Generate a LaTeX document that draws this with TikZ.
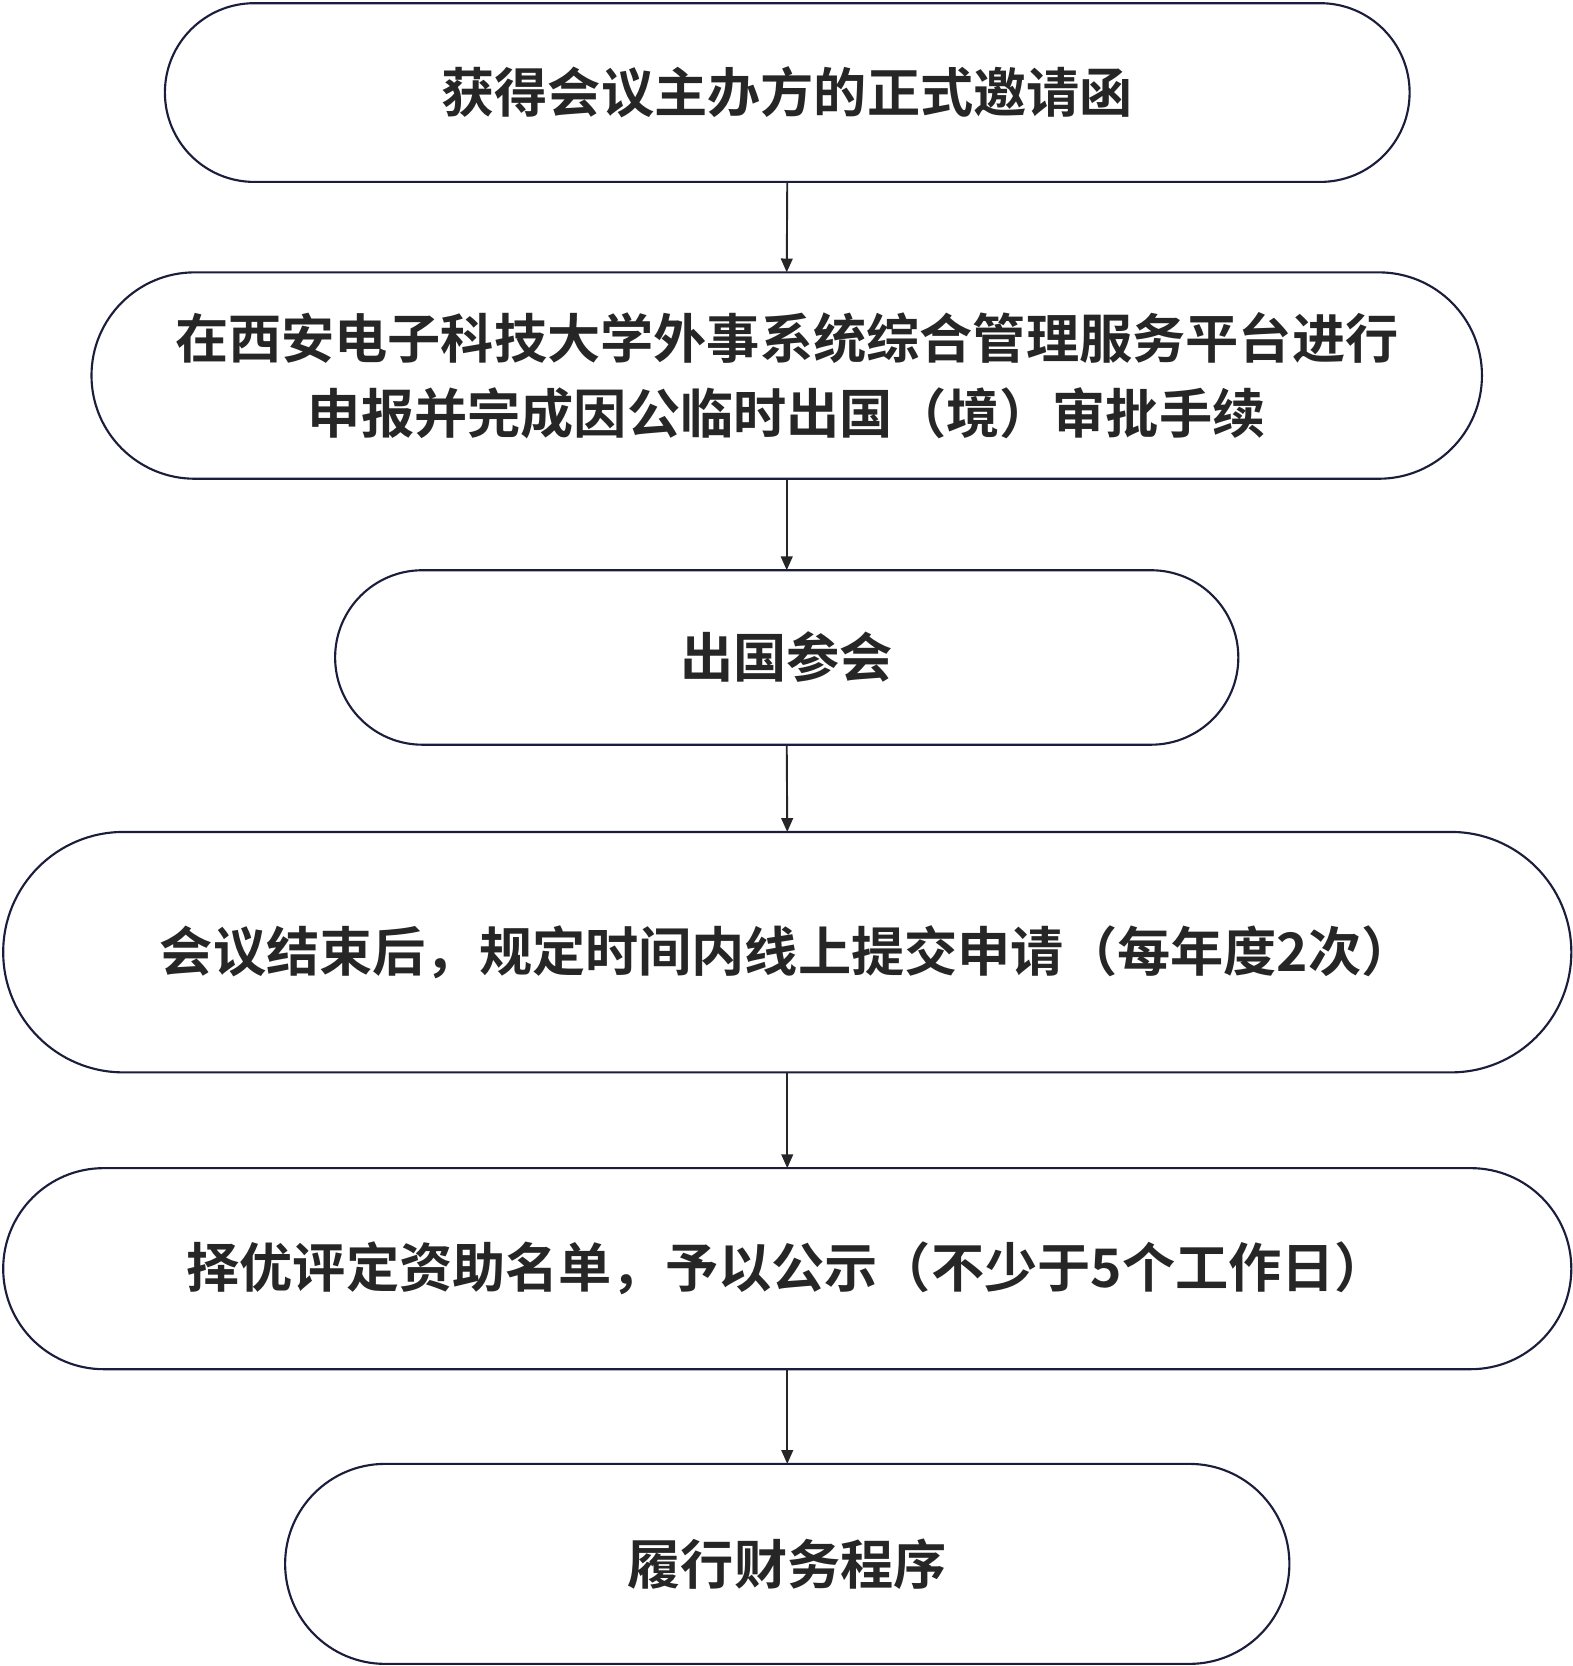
\documentclass[tikz,border=0pt]{standalone}
\usepackage{fontspec}
\newfontfamily\cjk{Noto Sans CJK SC Bold}
\usetikzlibrary{arrows.meta}
\definecolor{ln}{HTML}{1A1E3C}
\begin{document}
\begin{tikzpicture}[x=1pt,y=-1pt,
 bx/.style={draw=ln,line width=2pt,fill=white},
 tx/.style={font=\cjk\fontsize{50}{70}\selectfont,text=black!85,align=center},
 ar/.style={draw=black!85,line width=1.8pt,-{Triangle[length=13pt,width=11pt]}}]
\useasboundingbox (0,0) rectangle (1478,1566);
\newcommand\rbox[6]{%
 \pgfmathsetmacro\rr{(#4-#3)/2}%
 \draw[bx,rounded corners=\rr pt] (#1,#3) rectangle (#2,#4);
 \node[tx] (#5) at ({(#1+#2)/2},{(#3+#4)/2}) {#6};
 \coordinate (#5t) at ({(#1+#2)/2},#3);
 \coordinate (#5b) at ({(#1+#2)/2},#4);}
\rbox{155}{1325}{3}{171}{a}{获得会议主办方的正式邀请函}
\rbox{86}{1393}{256}{450}{b}{在西安电子科技大学外事系统综合管理服务平台进行\\申报并完成因公临时出国（境）审批手续}
\rbox{315}{1164}{536}{700}{c}{出国参会}
\rbox{3}{1477}{782}{1008}{d}{会议结束后，规定时间内线上提交申请（每年度2次）}
\rbox{3}{1477}{1098}{1287}{e}{择优评定资助名单，予以公示（不少于5个工作日）}
\rbox{268}{1212}{1376}{1564}{f}{履行财务程序}
\draw[ar] (ab) -- (bt);
\draw[ar] (bb) -- (ct);
\draw[ar] (cb) -- (dt);
\draw[ar] (db) -- (et);
\draw[ar] (eb) -- (ft);
\end{tikzpicture}
\end{document}
